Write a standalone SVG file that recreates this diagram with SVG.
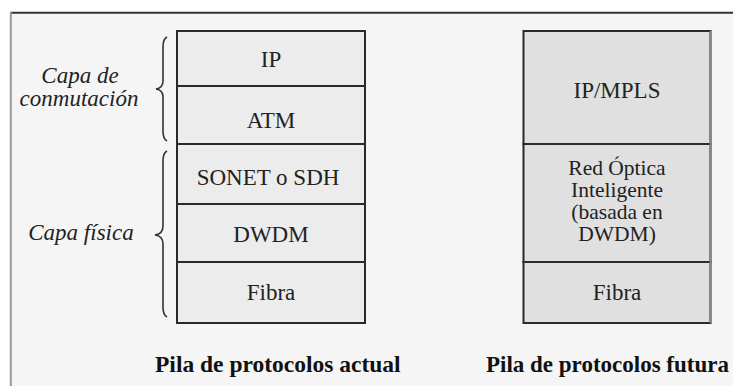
<svg xmlns="http://www.w3.org/2000/svg" width="733" height="386" viewBox="0 0 733 386">
<style>
.cell{stroke:#2a2a2a;stroke-width:2}
.l{fill:#ececec}
.r{fill:#e0e0e0}
.t{font-family:'Liberation Serif','DejaVu Serif',serif;font-size:23px;fill:#222;text-anchor:middle}
.s{font-size:21.5px}
.it{font-family:'Liberation Serif','DejaVu Serif',serif;font-size:23px;font-style:italic;fill:#222;text-anchor:middle}
.b{font-family:'Liberation Serif','DejaVu Serif',serif;font-size:23.5px;font-weight:bold;fill:#111}
.brace{fill:none;stroke:#333;stroke-width:1.6}
</style>
<rect x="0" y="0" width="733" height="386" fill="#ffffff"/>
<rect x="11" y="13" width="722" height="373" fill="#f5f5f5"/>
<line x1="10" y1="12.7" x2="733" y2="12.7" stroke="#333" stroke-width="2"/>
<line x1="10.8" y1="12" x2="10.8" y2="386" stroke="#999" stroke-width="2"/>

<g id="label-conmutacion">
<text class="it" x="80" y="83">Capa de</text>
<text class="it" x="79" y="106">conmutación</text>
</g>
<g id="label-fisica">
<text class="it" x="81" y="240">Capa física</text>
</g>

<g id="connectors">
<path class="brace" d="M167,37 Q163,39 163,47 L163,81 Q163,88 156,89 Q163,90 163,97 L163,131 Q163,139 167,141"/>
<path class="brace" d="M167,151 Q163,153 163,161 L163,226 Q163,234 155,235 Q163,236 163,244 L163,307 Q163,315 167,317"/>
</g>

<g id="ip">
<rect class="cell l" x="177" y="31" width="188" height="55"/>
<text class="t" x="271" y="67">IP</text>
</g>
<g id="atm">
<rect class="cell l" x="177" y="86" width="188" height="58"/>
<text class="t" x="271" y="128">ATM</text>
</g>
<g id="sonet">
<rect class="cell l" x="177" y="144" width="188" height="60"/>
<text class="t" x="268" y="185">SONET o SDH</text>
</g>
<g id="dwdm">
<rect class="cell l" x="177" y="204" width="188" height="58"/>
<text class="t" x="271" y="242">DWDM</text>
</g>
<g id="fibra1">
<rect class="cell l" x="177" y="262" width="188" height="61"/>
<text class="t" x="271" y="300">Fibra</text>
</g>

<g id="ipmpls">
<rect class="cell r" x="523.5" y="31" width="187" height="113"/>
<text class="t" x="617" y="98">IP/MPLS</text>
</g>
<g id="red-optica">
<rect class="cell r" x="523.5" y="144" width="187" height="118"/>
<text class="t s" x="617" y="175">Red Óptica</text>
<text class="t s" x="617" y="197">Inteligente</text>
<text class="t s" x="617" y="219">(basada en</text>
<text class="t s" x="617" y="241">DWDM)</text>
</g>
<g id="fibra2">
<rect class="cell r" x="523.5" y="262" width="187" height="61"/>
<text class="t" x="617" y="300">Fibra</text>
</g>
<line x1="710.5" y1="31" x2="710.5" y2="323" stroke="#888" stroke-width="2"/>

<g id="caption-actual">
<text class="b" x="155" y="372">Pila de protocolos actual</text>
</g>
<g id="caption-futura">
<text class="b" x="486" y="372" style="font-size:23px">Pila de protocolos futura</text>
</g>
</svg>
